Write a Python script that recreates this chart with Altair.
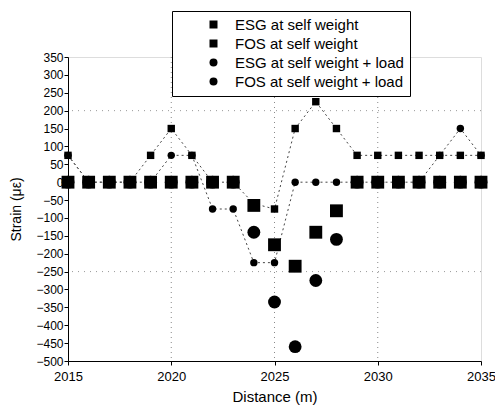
import altair as alt
import pandas as pd

# ---- data ----
distance = list(range(2015, 2036))
esg_self = [0, 0, 0, 0, 0, 0, 0, 0, 0, -65, -175, -235, -140, -80, 0, 0, 0, 0, 0, 0, 0]
fos_self = [75, 0, 0, 0, 75, 150, 75, 0, 0, -60, -75, 150, 225, 150, 75, 75, 75, 75, 75, 75, 75]
esg_load = [0, 0, 0, 0, 0, 0, 0, 0, 0, -140, -335, -460, -275, -160, 0, 0, 0, 0, 0, 0, 0]
fos_load = [75, 0, 0, 0, 0, 75, 75, -75, -75, -225, -225, 0, 0, 0, 0, 0, 0, 0, 75, 150, 75]

series_names = ["ESG at self weight", "FOS at self weight",
                "ESG at self weight + load", "FOS at self weight + load"]
x_ticks = [2015, 2020, 2025, 2030, 2035]
y_ticks = list(range(-500, 351, 50))
grid_x = [2020, 2025, 2030]
grid_y = [-250, 200]

rows = []
for name, vals in zip(series_names, [esg_self, fos_self, esg_load, fos_load]):
    for d, v in zip(distance, vals):
        rows.append({"Distance": d, "Strain": v, "Series": name})
df = pd.DataFrame(rows)
draw_order = {"ESG at self weight + load": 0, "ESG at self weight": 1,
              "FOS at self weight": 2, "FOS at self weight + load": 3}
df["order"] = df["Series"].map(draw_order)
df["Sensor"] = df["Series"].str[:3]
df = df.sort_values(["order", "Distance"]).reset_index(drop=True)

FONT = "Liberation Sans"

xscale = alt.Scale(domain=[2015, 2035], nice=False, zero=False)
yscale = alt.Scale(domain=[-500, 350], nice=False, zero=False)

xaxis = alt.Axis(values=x_ticks, format="d", grid=False, tickSize=4,
                 labelFontSize=13, titleFontSize=15, labelPadding=5,
                 titlePadding=6, labelFont=FONT, titleFont=FONT,
                 labelFlush=False, labelOverlap=False,
                 titleFontWeight="normal", labelColor="black",
                 titleColor="black", tickColor="black", domainColor="black")
yaxis = alt.Axis(values=y_ticks, grid=False, tickSize=4,
                 labelFontSize=12, titleFontSize=14, labelPadding=1,
                 titlePadding=12, labelFont=FONT, titleFont=FONT,
                 labelFlush=False, labelOverlap=False,
                 titleFontWeight="normal", labelColor="black",
                 titleColor="black", tickColor="black", domainColor="black")
XT = "Distance (m)"
YT = "Strain (\u03bc\u03b5)"
xenc = alt.X("Distance:Q", scale=xscale, title=XT, axis=xaxis)
yenc = alt.Y("Strain:Q", scale=yscale, title=YT, axis=yaxis)

gx = pd.DataFrame({"gx": grid_x})
gy = pd.DataFrame({"gy": grid_y})
vgrid = alt.Chart(gx).mark_rule(color="#888", strokeDash=[1, 4], strokeWidth=1).encode(
    x=alt.X("gx:Q", scale=xscale, title=XT, axis=xaxis))
hgrid = alt.Chart(gy).mark_rule(color="#999", strokeDash=[1, 5], strokeWidth=1).encode(
    y=alt.Y("gy:Q", scale=yscale, title=YT, axis=yaxis))

fos_df = df[df["Sensor"] == "FOS"]
lines = alt.Chart(fos_df).mark_line(color="#444", strokeDash=[2, 3], strokeWidth=1).encode(
    x=xenc, y=yenc, detail="Series:N")

legend = alt.Legend(title=None, orient="none", legendX=104, legendY=-46,
                    strokeColor="black", fillColor="white", padding=6,
                    labelFontSize=15, labelFont=FONT, labelColor="black",
                    labelLimit=400,
                    symbolSize=64, rowPadding=3, symbolOffset=28, labelOffset=14)

points = alt.Chart(df).mark_point(filled=True, opacity=1).encode(
    x=xenc, y=yenc,
    color=alt.Color("Series:N", sort=series_names,
                    scale=alt.Scale(domain=series_names, range=["black"] * 4),
                    legend=legend),
    shape=alt.Shape("Series:N", sort=series_names,
                    scale=alt.Scale(domain=series_names,
                                    range=["square", "square", "circle", "circle"]),
                    legend=legend),
    size=alt.Size("Sensor:N", scale=alt.Scale(domain=["ESG", "FOS"], range=[165, 55]),
                  legend=None),
    order=alt.Order("order:Q"),
)

chart = alt.layer(vgrid, hgrid, lines, points).properties(
    width=413, height=304, autosize="none",
    padding={"left": 68, "top": 57, "right": 14, "bottom": 47},
).configure_view(stroke="black", strokeWidth=1.5).configure(background="white")

chart.save("out.html", embed_options={"renderer": "svg", "actions": False})
